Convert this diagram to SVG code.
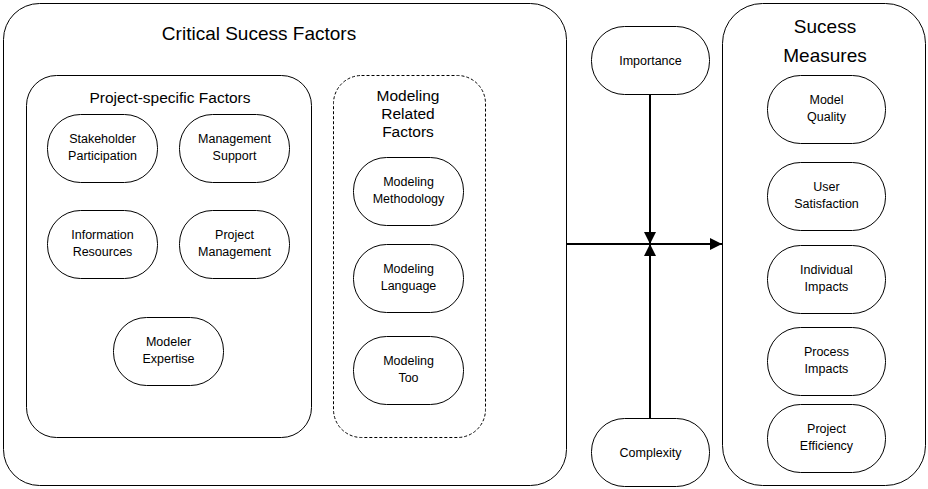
<svg xmlns="http://www.w3.org/2000/svg" width="928" height="489" viewBox="0 0 928 489">
  <style>
    .frame { fill: #ffffff; stroke: #000000; stroke-width: 1; }
    .dashed { fill: #ffffff; stroke: #000000; stroke-width: 1; stroke-dasharray: 3 2; }
    .pill { fill: #ffffff; stroke: #000000; stroke-width: 1; }
    .title { font-family: "Liberation Sans", Arial, sans-serif; font-size: 19px; fill: #000000; text-anchor: middle; }
    .sub { font-family: "Liberation Sans", Arial, sans-serif; font-size: 15.5px; fill: #000000; text-anchor: middle; }
    .lbl { font-family: "Liberation Sans", Arial, sans-serif; font-size: 12.5px; fill: #000000; text-anchor: middle; }
    .conn { fill: none; stroke: #000000; stroke-width: 2; }
  </style>
  <defs>
    <marker id="arrow" viewBox="0 0 12 12" refX="12" refY="6" markerWidth="12" markerHeight="12" markerUnits="userSpaceOnUse" orient="auto">
      <path d="M0,0 L12,6 L0,12 Z" fill="#000000"/>
    </marker>
  </defs>

  <rect width="928" height="489" fill="#ffffff"/>

  <!-- Critical success factors container -->
  <g id="critical-success-factors">
    <rect class="frame" x="3.5" y="3.5" width="563" height="482" rx="36" ry="36"/>
    <text class="title" x="259" y="40">Critical Sucess Factors</text>
  </g>

  <!-- Project-specific factors group -->
  <g id="project-specific-factors">
    <rect class="frame" x="26.5" y="75.5" width="285" height="362" rx="30" ry="30"/>
    <text class="sub" x="170" y="103">Project-specific Factors</text>
  </g>

  <g id="stakeholder-participation">
    <rect class="pill" x="47.5" y="114.5" width="110" height="68" rx="33" ry="33"/>
    <text class="lbl" x="102.5" y="143">Stakeholder</text>
    <text class="lbl" x="102.5" y="160">Participation</text>
  </g>
  <g id="management-support">
    <rect class="pill" x="179.5" y="114.5" width="110" height="68" rx="33" ry="33"/>
    <text class="lbl" x="234.5" y="143">Management</text>
    <text class="lbl" x="234.5" y="160">Support</text>
  </g>
  <g id="information-resources">
    <rect class="pill" x="47.5" y="210.5" width="110" height="68" rx="33" ry="33"/>
    <text class="lbl" x="102.5" y="239">Information</text>
    <text class="lbl" x="102.5" y="256">Resources</text>
  </g>
  <g id="project-management">
    <rect class="pill" x="179.5" y="210.5" width="110" height="68" rx="33" ry="33"/>
    <text class="lbl" x="234.5" y="239">Project</text>
    <text class="lbl" x="234.5" y="256">Management</text>
  </g>
  <g id="modeler-expertise">
    <rect class="pill" x="113.5" y="317.5" width="110" height="68" rx="33" ry="33"/>
    <text class="lbl" x="168.5" y="346">Modeler</text>
    <text class="lbl" x="168.5" y="363">Expertise</text>
  </g>

  <!-- Modeling related factors group -->
  <g id="modeling-related-factors">
    <rect class="dashed" x="333.5" y="75.5" width="152" height="362" rx="28" ry="28"/>
    <text class="sub" x="408" y="101">Modeling</text>
    <text class="sub" x="408" y="119">Related</text>
    <text class="sub" x="408" y="137">Factors</text>
  </g>
  <g id="modeling-methodology">
    <rect class="pill" x="353.5" y="157.5" width="110" height="68" rx="33" ry="33"/>
    <text class="lbl" x="408.5" y="186">Modeling</text>
    <text class="lbl" x="408.5" y="203">Methodology</text>
  </g>
  <g id="modeling-language">
    <rect class="pill" x="353.5" y="244.5" width="110" height="68" rx="33" ry="33"/>
    <text class="lbl" x="408.5" y="273">Modeling</text>
    <text class="lbl" x="408.5" y="290">Language</text>
  </g>
  <g id="modeling-tool">
    <rect class="pill" x="353.5" y="336.5" width="110" height="68" rx="33" ry="33"/>
    <text class="lbl" x="408.5" y="365">Modeling</text>
    <text class="lbl" x="408.5" y="382">Too</text>
  </g>

  <!-- Moderators -->
  <g id="importance">
    <rect class="pill" x="591.5" y="26.5" width="118" height="68" rx="33" ry="33"/>
    <text class="lbl" x="650.5" y="64.5">Importance</text>
  </g>
  <g id="complexity">
    <rect class="pill" x="591.5" y="418.5" width="118" height="68" rx="33" ry="33"/>
    <text class="lbl" x="650.5" y="456.5">Complexity</text>
  </g>

  <!-- Success measures container -->
  <g id="success-measures">
    <rect class="frame" x="722.5" y="3.5" width="203" height="482" rx="40" ry="40"/>
    <text class="title" x="825" y="33">Sucess</text>
    <text class="title" x="825" y="62">Measures</text>
  </g>
  <g id="model-quality">
    <rect class="pill" x="767.5" y="75.5" width="118" height="68" rx="33" ry="33"/>
    <text class="lbl" x="826.5" y="104">Model</text>
    <text class="lbl" x="826.5" y="121">Quality</text>
  </g>
  <g id="user-satisfaction">
    <rect class="pill" x="767.5" y="162.5" width="118" height="68" rx="33" ry="33"/>
    <text class="lbl" x="826.5" y="191">User</text>
    <text class="lbl" x="826.5" y="208">Satisfaction</text>
  </g>
  <g id="individual-impacts">
    <rect class="pill" x="767.5" y="245.5" width="118" height="68" rx="33" ry="33"/>
    <text class="lbl" x="826.5" y="274">Individual</text>
    <text class="lbl" x="826.5" y="291">Impacts</text>
  </g>
  <g id="process-impacts">
    <rect class="pill" x="767.5" y="327.5" width="118" height="68" rx="33" ry="33"/>
    <text class="lbl" x="826.5" y="356">Process</text>
    <text class="lbl" x="826.5" y="373">Impacts</text>
  </g>
  <g id="project-efficiency">
    <rect class="pill" x="767.5" y="404.5" width="118" height="68" rx="33" ry="33"/>
    <text class="lbl" x="826.5" y="433">Project</text>
    <text class="lbl" x="826.5" y="450">Efficiency</text>
  </g>

  <!-- Connectors -->
  <g id="connectors">
    <line class="conn" x1="567" y1="244" x2="722" y2="244" marker-end="url(#arrow)"/>
    <line class="conn" x1="650" y1="95" x2="650" y2="244" marker-end="url(#arrow)"/>
    <line class="conn" x1="650" y1="418" x2="650" y2="244" marker-end="url(#arrow)"/>
  </g>
</svg>
